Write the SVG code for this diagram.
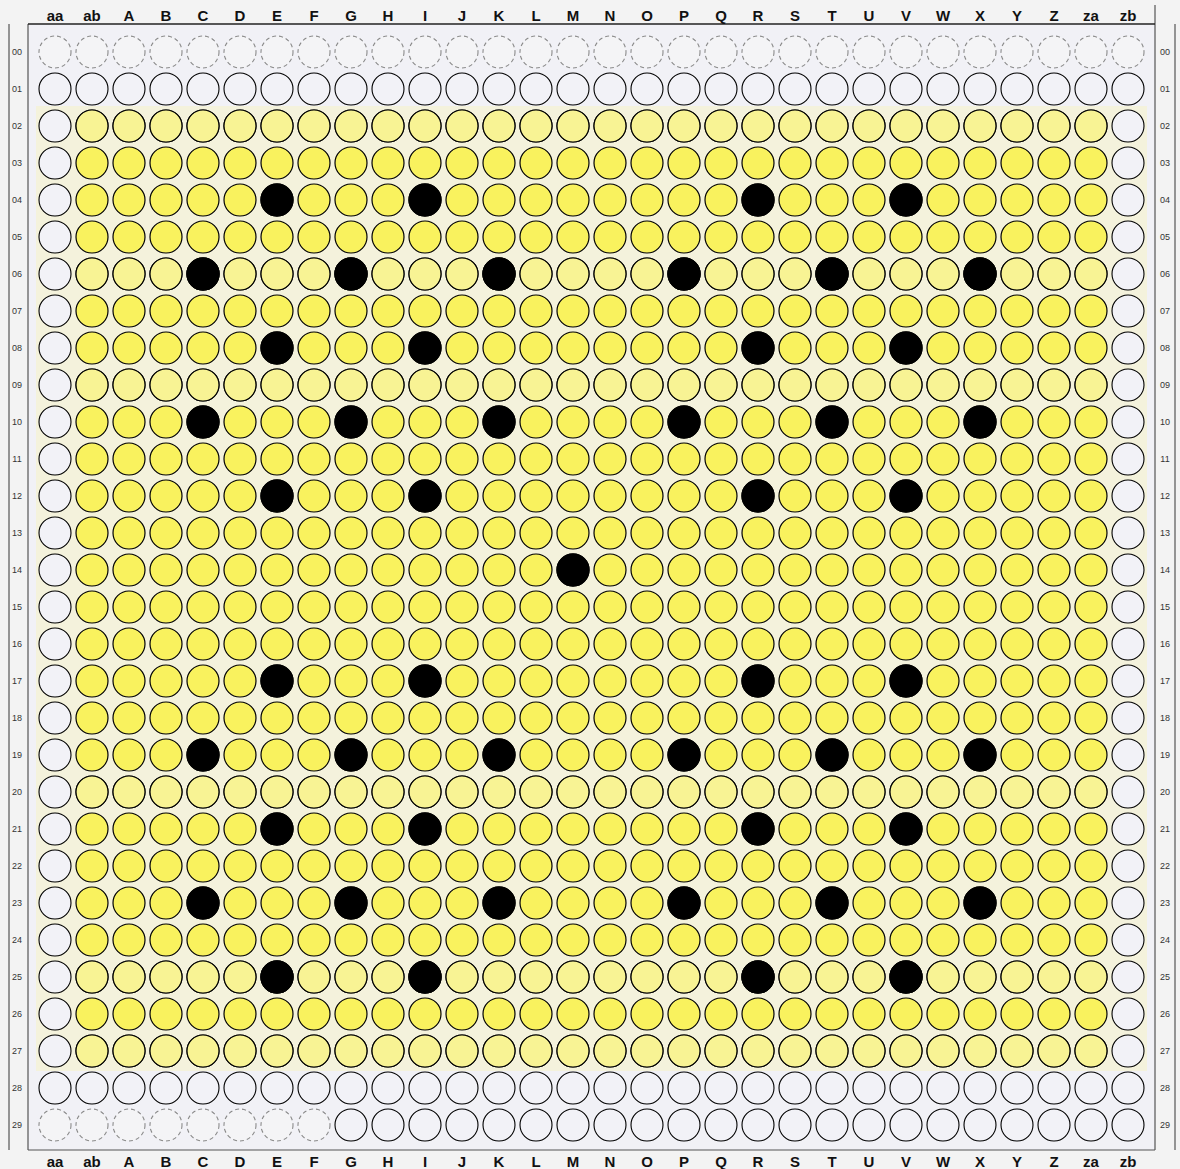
<svg xmlns="http://www.w3.org/2000/svg" width="1180" height="1169" viewBox="0 0 1180 1169">
<style>
.hdr{font-family:"Liberation Sans",Arial,sans-serif;font-size:15px;font-weight:bold;fill:#111;text-anchor:middle}
.rl{font-family:"Liberation Sans",Arial,sans-serif;font-size:9px;fill:#333;text-anchor:middle}
.k{fill:#000;stroke:#000;stroke-width:1.3}
.frame{stroke:#555;stroke-width:1.2;fill:none}
</style>
<defs>
<pattern id="py" patternUnits="userSpaceOnUse" x="37" y="34" width="37" height="37"><circle cx="18" cy="18" r="16" fill="#f9f25e" stroke="#000" stroke-width="1.2"/></pattern>
<pattern id="pp" patternUnits="userSpaceOnUse" x="37" y="34" width="37" height="37"><circle cx="18" cy="18" r="16" fill="#f8f394" stroke="#000" stroke-width="1.2"/></pattern>
<pattern id="pw" patternUnits="userSpaceOnUse" x="37" y="34" width="37" height="37"><circle cx="18" cy="18" r="16" fill="#f2f2f7" stroke="#000" stroke-width="1.1"/></pattern>
<pattern id="pd" patternUnits="userSpaceOnUse" x="37" y="34" width="37" height="37"><circle cx="18" cy="18" r="16" fill="#f4f4f6" stroke="#8a8a8a" stroke-width="1.1" stroke-dasharray="4 3"/></pattern>
</defs>
<rect width="1180" height="1169" fill="#f3f3f3"/>
<rect x="28" y="24" width="1127" height="1126" fill="#f1f1f6"/>
<rect x="36" y="106" width="1111" height="965" fill="#f4f2dc"/>
<g id="frame" class="frame">
<line x1="9" y1="24" x2="9" y2="1150"/>
<line x1="28" y1="24" x2="28" y2="1150"/>
<line x1="1155" y1="5" x2="1155" y2="1150"/>
<line x1="1175" y1="24" x2="1175" y2="1150"/>
<line x1="28" y1="24" x2="1155" y2="24" stroke="#222" stroke-width="1.6"/>
<line x1="28" y1="1150" x2="1155" y2="1150"/>
</g>
<g id="wells">
<rect x="37" y="34" width="1110" height="37" fill="url(#pd)"/>
<rect x="37" y="71" width="1110" height="37" fill="url(#pw)"/>
<rect x="37" y="108" width="37" height="962" fill="url(#pw)"/>
<rect x="1110" y="108" width="37" height="962" fill="url(#pw)"/>
<rect x="74" y="108" width="1036" height="962" fill="url(#py)"/>
<rect x="74" y="108" width="1036" height="37" fill="url(#pp)"/>
<rect x="74" y="256" width="1036" height="37" fill="url(#pp)"/>
<rect x="74" y="367" width="1036" height="37" fill="url(#pp)"/>
<rect x="74" y="774" width="1036" height="37" fill="url(#pp)"/>
<rect x="74" y="959" width="1036" height="37" fill="url(#pp)"/>
<rect x="74" y="1033" width="1036" height="37" fill="url(#pp)"/>
<rect x="37" y="1070" width="1110" height="37" fill="url(#pw)"/>
<rect x="37" y="1107" width="296" height="37" fill="url(#pd)"/>
<rect x="333" y="1107" width="814" height="37" fill="url(#pw)"/>
</g>
<g id="marked">
<g transform="translate(0,200)"><circle class="k" cx="277" r="16"/><circle class="k" cx="425" r="16"/><circle class="k" cx="758" r="16"/><circle class="k" cx="906" r="16"/></g>
<g transform="translate(0,274)"><circle class="k" cx="203" r="16"/><circle class="k" cx="351" r="16"/><circle class="k" cx="499" r="16"/><circle class="k" cx="684" r="16"/><circle class="k" cx="832" r="16"/><circle class="k" cx="980" r="16"/></g>
<g transform="translate(0,348)"><circle class="k" cx="277" r="16"/><circle class="k" cx="425" r="16"/><circle class="k" cx="758" r="16"/><circle class="k" cx="906" r="16"/></g>
<g transform="translate(0,422)"><circle class="k" cx="203" r="16"/><circle class="k" cx="351" r="16"/><circle class="k" cx="499" r="16"/><circle class="k" cx="684" r="16"/><circle class="k" cx="832" r="16"/><circle class="k" cx="980" r="16"/></g>
<g transform="translate(0,496)"><circle class="k" cx="277" r="16"/><circle class="k" cx="425" r="16"/><circle class="k" cx="758" r="16"/><circle class="k" cx="906" r="16"/></g>
<g transform="translate(0,570)"><circle class="k" cx="573" r="16"/></g>
<g transform="translate(0,681)"><circle class="k" cx="277" r="16"/><circle class="k" cx="425" r="16"/><circle class="k" cx="758" r="16"/><circle class="k" cx="906" r="16"/></g>
<g transform="translate(0,755)"><circle class="k" cx="203" r="16"/><circle class="k" cx="351" r="16"/><circle class="k" cx="499" r="16"/><circle class="k" cx="684" r="16"/><circle class="k" cx="832" r="16"/><circle class="k" cx="980" r="16"/></g>
<g transform="translate(0,829)"><circle class="k" cx="277" r="16"/><circle class="k" cx="425" r="16"/><circle class="k" cx="758" r="16"/><circle class="k" cx="906" r="16"/></g>
<g transform="translate(0,903)"><circle class="k" cx="203" r="16"/><circle class="k" cx="351" r="16"/><circle class="k" cx="499" r="16"/><circle class="k" cx="684" r="16"/><circle class="k" cx="832" r="16"/><circle class="k" cx="980" r="16"/></g>
<g transform="translate(0,977)"><circle class="k" cx="277" r="16"/><circle class="k" cx="425" r="16"/><circle class="k" cx="758" r="16"/><circle class="k" cx="906" r="16"/></g>
</g>
<g id="col-labels-top" class="hdr">
<text x="55" y="21">aa</text><text x="92" y="21">ab</text><text x="129" y="21">A</text><text x="166" y="21">B</text><text x="203" y="21">C</text><text x="240" y="21">D</text><text x="277" y="21">E</text><text x="314" y="21">F</text><text x="351" y="21">G</text><text x="388" y="21">H</text><text x="425" y="21">I</text><text x="462" y="21">J</text><text x="499" y="21">K</text><text x="536" y="21">L</text><text x="573" y="21">M</text><text x="610" y="21">N</text><text x="647" y="21">O</text><text x="684" y="21">P</text><text x="721" y="21">Q</text><text x="758" y="21">R</text><text x="795" y="21">S</text><text x="832" y="21">T</text><text x="869" y="21">U</text><text x="906" y="21">V</text><text x="943" y="21">W</text><text x="980" y="21">X</text><text x="1017" y="21">Y</text><text x="1054" y="21">Z</text><text x="1091" y="21">za</text><text x="1128" y="21">zb</text>
</g>
<g id="col-labels-bottom" class="hdr">
<text x="55" y="1167">aa</text><text x="92" y="1167">ab</text><text x="129" y="1167">A</text><text x="166" y="1167">B</text><text x="203" y="1167">C</text><text x="240" y="1167">D</text><text x="277" y="1167">E</text><text x="314" y="1167">F</text><text x="351" y="1167">G</text><text x="388" y="1167">H</text><text x="425" y="1167">I</text><text x="462" y="1167">J</text><text x="499" y="1167">K</text><text x="536" y="1167">L</text><text x="573" y="1167">M</text><text x="610" y="1167">N</text><text x="647" y="1167">O</text><text x="684" y="1167">P</text><text x="721" y="1167">Q</text><text x="758" y="1167">R</text><text x="795" y="1167">S</text><text x="832" y="1167">T</text><text x="869" y="1167">U</text><text x="906" y="1167">V</text><text x="943" y="1167">W</text><text x="980" y="1167">X</text><text x="1017" y="1167">Y</text><text x="1054" y="1167">Z</text><text x="1091" y="1167">za</text><text x="1128" y="1167">zb</text>
</g>
<g id="row-labels-left" class="rl">
<text x="17" y="55">00</text><text x="17" y="92">01</text><text x="17" y="129">02</text><text x="17" y="166">03</text><text x="17" y="203">04</text><text x="17" y="240">05</text><text x="17" y="277">06</text><text x="17" y="314">07</text><text x="17" y="351">08</text><text x="17" y="388">09</text><text x="17" y="425">10</text><text x="17" y="462">11</text><text x="17" y="499">12</text><text x="17" y="536">13</text><text x="17" y="573">14</text><text x="17" y="610">15</text><text x="17" y="647">16</text><text x="17" y="684">17</text><text x="17" y="721">18</text><text x="17" y="758">19</text><text x="17" y="795">20</text><text x="17" y="832">21</text><text x="17" y="869">22</text><text x="17" y="906">23</text><text x="17" y="943">24</text><text x="17" y="980">25</text><text x="17" y="1017">26</text><text x="17" y="1054">27</text><text x="17" y="1091">28</text><text x="17" y="1128">29</text>
</g>
<g id="row-labels-right" class="rl">
<text x="1165" y="55">00</text><text x="1165" y="92">01</text><text x="1165" y="129">02</text><text x="1165" y="166">03</text><text x="1165" y="203">04</text><text x="1165" y="240">05</text><text x="1165" y="277">06</text><text x="1165" y="314">07</text><text x="1165" y="351">08</text><text x="1165" y="388">09</text><text x="1165" y="425">10</text><text x="1165" y="462">11</text><text x="1165" y="499">12</text><text x="1165" y="536">13</text><text x="1165" y="573">14</text><text x="1165" y="610">15</text><text x="1165" y="647">16</text><text x="1165" y="684">17</text><text x="1165" y="721">18</text><text x="1165" y="758">19</text><text x="1165" y="795">20</text><text x="1165" y="832">21</text><text x="1165" y="869">22</text><text x="1165" y="906">23</text><text x="1165" y="943">24</text><text x="1165" y="980">25</text><text x="1165" y="1017">26</text><text x="1165" y="1054">27</text><text x="1165" y="1091">28</text><text x="1165" y="1128">29</text>
</g>
</svg>
